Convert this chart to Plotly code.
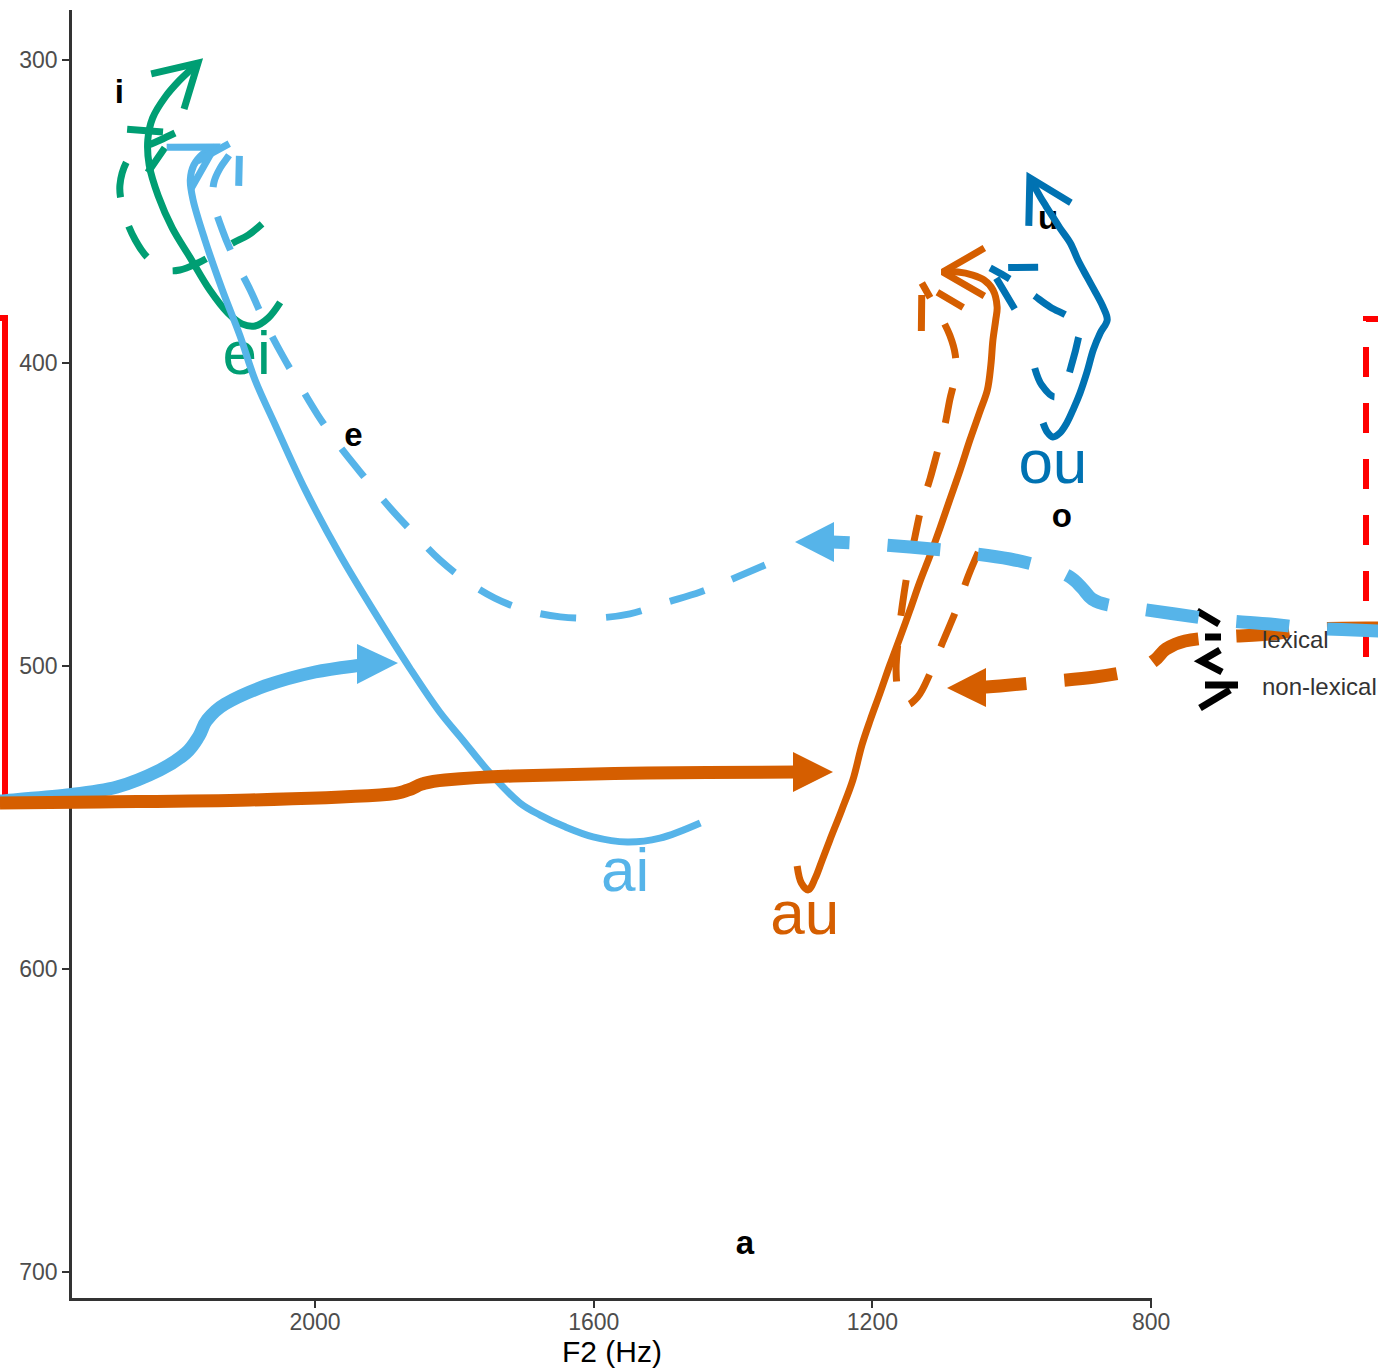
import math
import plotly.graph_objects as go

# ---------------- axes ----------------
X_RANGE = [2348.8, 798.7]
Y_RANGE = [708.6, 283.5]
X_TICKS = [2000, 1600, 1200, 800]
Y_TICKS = [300, 400, 500, 600, 700]

W, H = 1378, 1370
ML, MR, MT, MB = 72, 226, 10, 72
PW = W - ML - MR
PH = H - MT - MB

# ---------------- trajectories (F2 Hz, F1 Hz) ----------------
ei_lex_f2 = [2050, 2067, 2086, 2105, 2125, 2151, 2179, 2205, 2225, 2238, 2240, 2233, 2215, 2194, 2168]
ei_lex_f1 = [380, 385.1, 387.8, 387.1, 383.5, 375.9, 365.3, 355.4, 344.9, 334.7, 326.4, 319.1, 312.2, 306.6, 301.0]
ei_non_f2 = [2076, 2096, 2118, 2144, 2168, 2194, 2215, 2240, 2258, 2273, 2280, 2266, 2244, 2222, 2201]
ei_non_f1 = [354.1, 357.8, 360.4, 364.0, 367.0, 369.3, 369.3, 365.3, 359.4, 351.2, 341.3, 332.0, 328.7, 326.4, 324.1]

ai_lex_f2 = [1447, 1505, 1552, 1601, 1641, 1677, 1706, 1749, 1788, 1821, 1864, 1914, 1964, 2014, 2057, 2086,
             2108, 2133, 2158, 2175, 2179, 2174, 2161, 2144]
ai_lex_f1 = [551.8, 556.8, 558.1, 556.4, 553.1, 549.2, 545.2, 535.3, 524.4, 515.2, 500.7, 482.5, 463.4, 441.9,
             420.5, 405.6, 390.8, 375.9, 359.4, 346.2, 339.6, 334.7, 331.0, 328.7]
ai_non_f2 = [1354, 1404, 1447, 1498, 1548, 1598, 1648, 1699, 1742, 1785, 1821, 1856, 1892, 1928, 1964, 1996,
             2022, 2047, 2072, 2093, 2115, 2133, 2146, 2145, 2136, 2122, 2108]
ai_non_f1 = [466.7, 471.6, 475.6, 479.2, 482.8, 484.2, 483.8, 481.5, 477.6, 471.6, 465.0, 456.8, 447.9, 438.0,
             427.7, 417.2, 407.3, 397.4, 386.5, 375.9, 366.0, 356.1, 346.2, 340.3, 335.6, 331.0, 325.7]

au_lex_f2 = [1308, 1302, 1292, 1282, 1272, 1261, 1244, 1228, 1215, 1203, 1189, 1175, 1160, 1146, 1132, 1117,
             1103, 1089, 1074, 1060, 1046, 1035, 1030, 1027, 1023, 1021, 1027, 1040, 1056, 1077, 1099]
au_lex_f1 = [566.0, 571.6, 573.9, 570.0, 564.0, 557.4, 547.5, 537.6, 526.1, 517.8, 508.9, 499.7, 490.4, 481.5,
             472.3, 463.4, 454.5, 445.2, 435.3, 425.4, 416.2, 408.9, 400.7, 392.4, 385.8, 381.5, 375.9, 372.6,
             371.0, 370.0, 370.0]
au_non_f2 = [1048, 1063, 1078, 1099, 1117, 1135, 1152, 1163, 1166, 1163, 1157, 1149, 1139, 1129, 1117, 1106,
             1096, 1089, 1081, 1081, 1089, 1103, 1117, 1129]
au_non_f1 = [462.4, 470.6, 480.5, 492.1, 502.3, 510.2, 512.9, 507.9, 501.3, 491.4, 479.9, 468.3, 457.4, 446.9,
             438.0, 428.7, 420.5, 412.2, 404.0, 397.4, 390.8, 384.2, 378.5, 373.6]

ou_lex_f2 = [955, 949, 941, 931, 921, 911, 902, 892, 883, 873, 863, 869, 880, 892, 905, 916, 931, 941, 951, 959, 974]
ou_lex_f1 = [419.8, 422.8, 424.4, 423.1, 419.8, 414.9, 409.9, 403.0, 395.7, 390.1, 385.8, 381.5, 376.6, 371.6,
             366.0, 360.4, 355.4, 351.8, 348.2, 345.2, 338.9]
ou_non_f2 = [967, 957, 938, 924, 913, 905, 902, 916, 945, 967, 985, 1010, 1031]
ou_non_f1 = [401.7, 407.3, 411.2, 407.3, 399.7, 392.4, 388.4, 385.1, 381.5, 377.9, 374.9, 371.3, 368.6]

# ---------------- labels ----------------
phoneme_labels = ["i", "e", "o", "u", "a"]
phoneme_f2 = [2281, 1945, 928, 948, 1383]
phoneme_f1 = [311.4, 424.6, 451.3, 352.9, 691.2]

diph_labels = ["ei", "ai", "au", "ou"]
diph_f2 = [2098, 1555, 1297, 941]
diph_f1 = [398.4, 569.0, 583.3, 434.6]

legend_labels = ["lexical", "non-lexical"]

C_EI, C_AI, C_AU, C_OU = "#009E73", "#56B4E9", "#D55E00", "#0072B2"
FONT = "Liberation Sans, Arial, Helvetica, sans-serif"

# ---------------- helpers ----------------
def to_px(x, y):
    return (ML + (X_RANGE[0] - x) / (X_RANGE[0] - X_RANGE[1]) * PW,
            MT + (y - Y_RANGE[1]) / (Y_RANGE[0] - Y_RANGE[1]) * PH)

def to_data(px, py):
    return (X_RANGE[0] - (px - ML) / PW * (X_RANGE[0] - X_RANGE[1]),
            Y_RANGE[1] + (py - MT) / PH * (Y_RANGE[0] - Y_RANGE[1]))

def barbs(xs, ys, length=48, ang=30):
    tx, ty = to_px(xs[-1], ys[-1])
    qx, qy = to_px(xs[-2], ys[-2])
    dx, dy = qx - tx, qy - ty
    n = math.hypot(dx, dy)
    dx, dy = dx / n, dy / n
    out_x, out_y = [], []
    for s in (1, -1):
        a = math.radians(ang) * s
        bx = tx + length * (dx * math.cos(a) - dy * math.sin(a))
        by = ty + length * (dx * math.sin(a) + dy * math.cos(a))
        d = to_data(bx, by)
        out_x.append(d[0])
        out_y.append(d[1])
    return [out_x[0], xs[-1], out_x[1]], [out_y[0], ys[-1], out_y[1]]

def pap(px, py):
    return (px - ML) / PW, (MT + PH - py) / PH

def smooth_path(pts):
    P = [pap(*p) for p in pts]
    d = "M %.5f,%.5f" % P[0]
    for i in range(len(P) - 1):
        p0 = P[i - 1] if i > 0 else P[i]
        p1, p2 = P[i], P[i + 1]
        p3 = P[i + 2] if i + 2 < len(P) else P[i + 1]
        c1 = (p1[0] + (p2[0] - p0[0]) / 6, p1[1] + (p2[1] - p0[1]) / 6)
        c2 = (p2[0] - (p3[0] - p1[0]) / 6, p2[1] - (p3[1] - p1[1]) / 6)
        d += " C %.5f,%.5f %.5f,%.5f %.5f,%.5f" % (c1 + c2 + p2)
    return d

def poly_path(pts, close=True):
    P = [pap(*p) for p in pts]
    d = "M " + " L ".join("%.5f,%.5f" % p for p in P)
    return d + (" Z" if close else "")

fig = go.Figure()

# labels (below lines)
fig.add_trace(go.Scatter(x=diph_f2, y=diph_f1, mode="text", text=diph_labels,
                         textfont=dict(size=62, color=[C_EI, C_AI, C_AU, C_OU], family=FONT),
                         textposition="middle center", showlegend=False, hoverinfo="skip"))
fig.add_trace(go.Scatter(x=phoneme_f2, y=phoneme_f1, mode="text", text=["<b>%s</b>" % t for t in phoneme_labels],
                         textfont=dict(size=33, color="black", family=FONT),
                         textposition="middle center", showlegend=False, hoverinfo="skip"))

series = [
    (ei_lex_f2, ei_lex_f1, C_EI, "solid"), (ei_non_f2, ei_non_f1, C_EI, "36px,30px"),
    (ai_lex_f2, ai_lex_f1, C_AI, "solid"), (ai_non_f2, ai_non_f1, C_AI, "36px,30px"),
    (au_lex_f2, au_lex_f1, C_AU, "solid"), (au_non_f2, au_non_f1, C_AU, "36px,30px"),
    (ou_lex_f2, ou_lex_f1, C_OU, "solid"), (ou_non_f2, ou_non_f1, C_OU, "36px,30px"),
]
for xs, ys, col, dash in series:
    fig.add_trace(go.Scatter(x=xs, y=ys, mode="lines", line=dict(color=col, width=7, dash=dash,
                             shape="spline", smoothing=1.0), showlegend=False, hoverinfo="skip"))
    bx, by = barbs(xs, ys)
    fig.add_trace(go.Scatter(x=bx, y=by, mode="lines", line=dict(color=col, width=7, dash=dash),
                             showlegend=False, hoverinfo="skip"))

# ---------------- decorations (pixel waypoints of the overlaid callouts) ----------------
deco_blue_solid = [(0, 801), (67, 795), (117, 787), (160, 770), (186, 753), (199, 736), (207, 720),
                   (225, 704), (265, 686), (315, 672), (362, 665)]
deco_blue_solid_head = [(398, 663), (357, 644), (357, 684)]
deco_orange_solid = [(0, 803), (100, 802), (250, 800), (380, 795), (408, 790), (422, 784), (445, 780),
                     (513, 776), (647, 773), (797, 772)]
deco_orange_solid_head = [(833, 772), (793, 752), (793, 792)]
deco_orange_dash = [(1380, 628), (1310, 629), (1272, 634), (1220, 637), (1185, 641), (1166, 649),
                    (1155, 660), (1138, 669), (1095, 677), (1043, 682), (1000, 686), (984, 687)]
deco_orange_dash_head = [(947, 688), (986, 668), (986, 707)]
deco_blue_dash = [(1380, 631), (1310, 628), (1270, 624), (1220, 620), (1175, 614), (1140, 609), (1108, 605),
                  (1092, 599), (1082, 588), (1070, 577), (1050, 569), (1010, 559), (960, 552), (910, 547),
                  (870, 544), (832, 542)]
deco_blue_dash_head = [(795, 542), (834, 522), (834, 562)]
key_strokes = [[(1197, 611), (1219, 624)], [(1205, 637), (1221, 637)],
               [(1220, 650), (1201, 661), (1222, 672)], [(1205, 685), (1238, 685)],
               [(1200, 708), (1230, 690)]]

shapes = []
# red boxes
shapes.append(dict(type="path", xref="paper", yref="paper",
                   path=poly_path([(-60, 318), (5, 318), (5, 803), (-60, 803)], close=False),
                   line=dict(color="#FF0000", width=6)))
shapes.append(dict(type="path", xref="paper", yref="paper",
                   path=poly_path([(1450, 319), (1366, 319), (1366, 682)], close=False),
                   line=dict(color="#FF0000", width=6, dash="30px,26px")))
# legend key strokes
for stroke in key_strokes:
    shapes.append(dict(type="path", xref="paper", yref="paper", path=poly_path(stroke, close=False),
                       line=dict(color="black", width=7)))
# callout arrows
for pts, head, col, dash in [(deco_blue_solid, deco_blue_solid_head, C_AI, "solid"),
                             (deco_orange_solid, deco_orange_solid_head, C_AU, "solid"),
                             (deco_orange_dash, deco_orange_dash_head, C_AU, "53px,38px"),
                             (deco_blue_dash, deco_blue_dash_head, C_AI, "53px,38px")]:
    shapes.append(dict(type="path", xref="paper", yref="paper", path=smooth_path(pts),
                       line=dict(color=col, width=13, dash=dash)))
    shapes.append(dict(type="path", xref="paper", yref="paper", path=poly_path(head),
                       fillcolor=col, line=dict(width=0)))

annotations = []
for lab, py in zip(legend_labels, [639, 686]):
    xp, yp = pap(1260, py)
    annotations.append(dict(x=xp, y=yp, xref="paper", yref="paper", text=lab, showarrow=False,
                            xanchor="left", yanchor="middle", font=dict(size=24, color="#333333", family=FONT)))

axis_common = dict(showgrid=False, zeroline=False, showline=True, linecolor="#333333", linewidth=2.5,
                   ticks="outside", ticklen=7, tickwidth=2, tickcolor="#333333", automargin=False,
                   tickfont=dict(size=23, color="#4D4D4D", family=FONT))

fig.update_layout(
    width=W, height=H, margin=dict(l=ML, r=MR, t=MT, b=MB, autoexpand=False),
    paper_bgcolor="white", plot_bgcolor="white",
    font=dict(family=FONT),
    xaxis=dict(range=X_RANGE, tickvals=X_TICKS, ticklabelstandoff=-5,
               title=dict(text="F2 (Hz)", font=dict(size=30, color="black"), standoff=4), **axis_common),
    yaxis=dict(range=Y_RANGE, tickvals=Y_TICKS, **axis_common),
    shapes=shapes, annotations=annotations, showlegend=False,
)

fig.write_html("out.html", config={"displayModeBar": False},
               post_script="document.body.style.margin='0px';document.body.style.overflow='hidden';")
